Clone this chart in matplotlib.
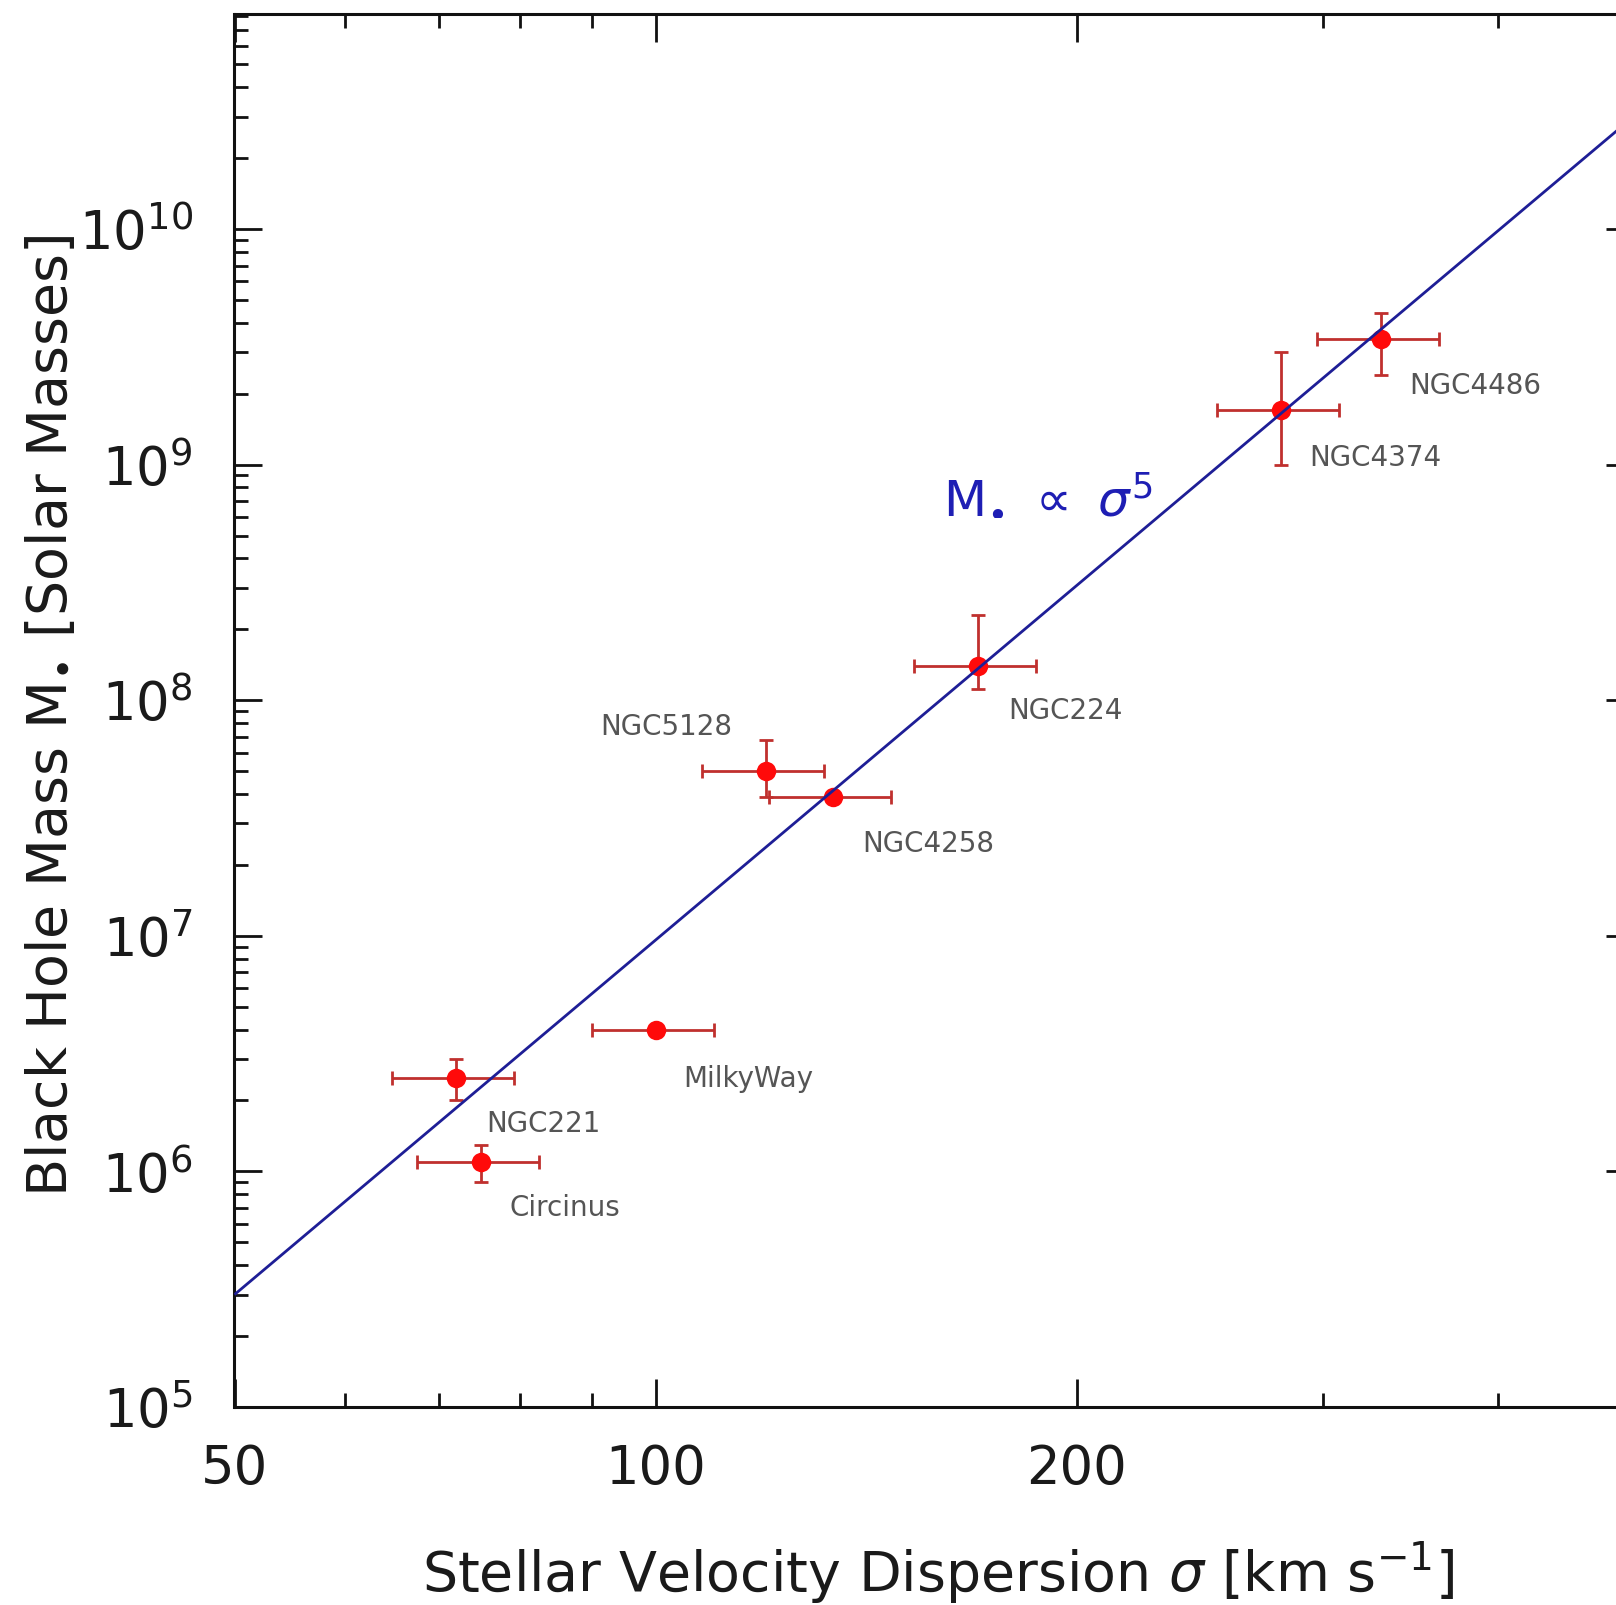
import numpy as np
import matplotlib
matplotlib.use("Agg")
import matplotlib.pyplot as plt
from matplotlib.ticker import (FixedLocator, FixedFormatter, NullFormatter,
                               LogLocator, LogFormatterSciNotation)

# Galaxies with dynamical black-hole masses
names = ["NGC221", "Circinus", "MilkyWay", "NGC5128",
         "NGC4258", "NGC224", "NGC4374", "NGC4486"]
sigma = [72, 75, 100, 120, 134, 170, 280, 330]            # km/s
sigma_err = [7.2, 7.5, 10, 12, 13.4, 17, 28, 33]
mass = [2.5e6, 1.1e6, 4.0e6, 5.0e7, 3.9e7, 1.4e8, 1.7e9, 3.4e9]   # solar masses
mass_err_lo = [0.5e6, 0.2e6, 0.0, 1.1e7, 0.0, 0.28e8, 0.7e9, 1.0e9]
mass_err_hi = [0.5e6, 0.2e6, 0.0, 1.8e7, 0.0, 0.9e8, 1.3e9, 1.0e9]

# M-sigma relation: M = fit_norm * (sigma / fit_pivot) ** fit_slope
fit_pivot = 50.0
fit_norm = 3.0e5
fit_slope = 5.0
fit_range = [50, 500]

x_major = [50, 100, 200, 500]
x_major_labels = ["50", "100", "200", ""]
x_minor = [60, 70, 80, 90, 300, 400]

# label offsets in pixels (dx, dy) from each point
label_offsets = {
    "NGC4486": (28, -47), "NGC4374": (28, -48), "NGC224": (30, -45),
    "NGC4258": (29, -47), "NGC5128": (-166, 44), "MilkyWay": (28, -49),
    "NGC221": (30, -46), "Circinus": (29, -46),
}

W, H = 1616, 1605
fig = plt.figure(figsize=(W / 100, H / 100), dpi=100)
ax_l, ax_r, ax_t, ax_b = 234.5, 1633.5, 14, 1407
ax = fig.add_axes([ax_l / W, (H - ax_b) / H, (ax_r - ax_l) / W, (ax_b - ax_t) / H])

ax.set_xscale("log")
ax.set_yscale("log")
ax.set_xlim(50, 500)
ax.set_ylim(1e5, 10 ** 10.913)

# fitted power law
xs = np.array(fit_range, dtype=float)
ax.plot(xs, fit_norm * (xs / fit_pivot) ** fit_slope, color="#1e1e96", lw=2.0,
        zorder=4, solid_capstyle="butt")

# data with error bars
ax.errorbar(sigma, mass, xerr=sigma_err, yerr=[mass_err_lo, mass_err_hi],
            fmt="none", ecolor="#c0302e", elinewidth=2.0, capsize=5,
            capthick=2.0, zorder=2)
ax.plot(sigma, mass, "o", color="#ff0a0a", ms=14, mec="none", zorder=3)

for n, sx, m in zip(names, sigma, mass):
    dx, dy = label_offsets[n]
    ax.annotate(n, (sx, m), xytext=(dx, dy), textcoords="offset pixels",
                ha="left", va="center", fontsize=20, color="#555555")

ax.text(0.5064, 0.6427, r"$\mathrm{M}_{\bullet}\ \propto\ \sigma^{5}$",
        transform=ax.transAxes, ha="left", va="baseline", fontsize=36,
        color="#1e1eb4")

# axes ticks
ax.xaxis.set_major_locator(FixedLocator(x_major))
ax.xaxis.set_major_formatter(FixedFormatter(x_major_labels))
ax.xaxis.set_minor_locator(FixedLocator(x_minor))
ax.xaxis.set_minor_formatter(NullFormatter())
ax.yaxis.set_major_locator(LogLocator(base=10, numticks=20))
ax.yaxis.set_major_formatter(LogFormatterSciNotation())
ax.yaxis.set_minor_locator(LogLocator(base=10, subs=np.arange(2, 10), numticks=20))
ax.yaxis.set_minor_formatter(NullFormatter())

ax.tick_params(which="both", direction="in", top=True, right=True,
               width=2.0, color="#111111")
ax.tick_params(which="major", length=20, labelsize=38, labelcolor="#1a1a1a")
ax.tick_params(which="minor", length=10)
ax.tick_params(axis="x", which="major", pad=26)
ax.tick_params(axis="y", which="major", pad=30)
for s in ax.spines.values():
    s.set_linewidth(2.2)
    s.set_color("#111111")

fig.text(938 / W, 1 - 1572 / H,
         r"Stellar Velocity Dispersion $\sigma$ [km s$^{-1}$]",
         ha="center", va="center", fontsize=40, color="#1a1a1a")
fig.text(51.5 / W, 1 - 716 / H,
         r"Black Hole Mass M$_{\bullet}$ [Solar Masses]",
         ha="center", va="center", rotation=90, fontsize=40, color="#1a1a1a")

fig.savefig("out.png", dpi=100)
